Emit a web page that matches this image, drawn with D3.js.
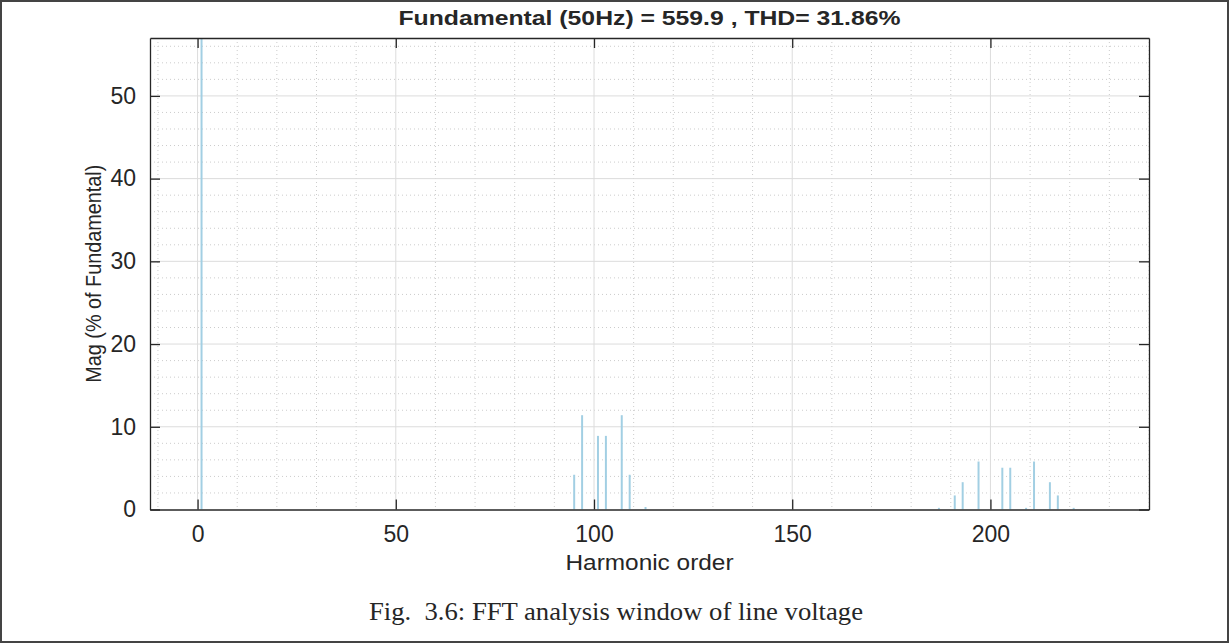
<!DOCTYPE html>
<html>
<head>
<meta charset="utf-8">
<script src="https://cdn.jsdelivr.net/npm/d3@7"></script>
<style>
  html, body { margin: 0; padding: 0; background: #fff; }
  svg { display: block; }
  text { font-family: "Liberation Sans", Arial, Helvetica, sans-serif; fill: #262626; }
</style>
</head>
<body>
<svg id="chart" width="1230" height="644"></svg>
<script>
// ---- data ----
const titleText = "Fundamental (50Hz) = 559.9 , THD= 31.86%";
const xLabelText = "Harmonic order";
const yLabelText = "Mag (% of Fundamental)";
const captionText = "Fig.  3.6: FFT analysis window of line voltage";
const harmonics = [1, 95, 97, 101, 103, 107, 109, 113, 187, 191, 193, 197, 203, 205, 209, 211, 215, 217, 221];
const magnitudes = [100, 4.2, 11.4, 8.9, 8.9, 11.4, 4.2, 0.3, 0.2, 1.7, 3.3, 5.8, 5.05, 5.05, 0.2, 5.8, 3.3, 1.7, 0.2];
const xTicks = [0, 50, 100, 150, 200];
const yTicks = [0, 10, 20, 30, 40, 50];
const xDomain = [-12, 240];
const yDomain = [0, 57];

// ---- layout ----
const svg = d3.select("#chart");
const W = 1230, H = 644;
const plot = { left: 150, right: 1149, top: 38, bottom: 509.5 };

svg.append("rect").attr("x", 1).attr("y", 1).attr("width", W - 3).attr("height", H - 3)
  .attr("fill", "#fff").attr("stroke", "#444").attr("stroke-width", 2);

const x = d3.scaleLinear().domain(xDomain).range([plot.left, plot.right]);
const y = d3.scaleLinear().domain(yDomain).range([plot.bottom, plot.top]);

svg.append("defs").append("clipPath").attr("id", "clip")
  .append("rect").attr("x", plot.left).attr("y", plot.top)
  .attr("width", plot.right - plot.left).attr("height", plot.bottom - plot.top);

const g = svg.append("g");

// minor grid
const xMinor = d3.range(-10, 241, 10).filter(v => v % 50 !== 0);
const yMinor = d3.range(0, 57.01, 2).filter(v => v % 10 !== 0);
g.selectAll(".xminor").data(xMinor).join("line")
  .attr("x1", d => x(d)).attr("x2", d => x(d)).attr("y1", plot.top).attr("y2", plot.bottom)
  .attr("stroke", "#cccccc").attr("stroke-width", 1).attr("stroke-dasharray", "1,3");
g.selectAll(".yminor").data(yMinor).join("line")
  .attr("y1", d => y(d)).attr("y2", d => y(d)).attr("x1", plot.left).attr("x2", plot.right)
  .attr("stroke", "#cccccc").attr("stroke-width", 1).attr("stroke-dasharray", "1,3");

// major grid
g.selectAll(".xmajor").data(xTicks).join("line")
  .attr("x1", d => x(d)).attr("x2", d => x(d)).attr("y1", plot.top).attr("y2", plot.bottom)
  .attr("stroke", "#dcdcdc").attr("stroke-width", 1);
g.selectAll(".ymajor").data(yTicks.slice(1)).join("line")
  .attr("y1", d => y(d)).attr("y2", d => y(d)).attr("x1", plot.left).attr("x2", plot.right)
  .attr("stroke", "#dcdcdc").attr("stroke-width", 1);

// bars
const barW = x(0.5) - x(0);
g.append("g").attr("clip-path", "url(#clip)")
  .selectAll("rect").data(harmonics.map((h, i) => ({ h, m: magnitudes[i] }))).join("rect")
  .attr("x", d => x(d.h) - barW / 2).attr("width", barW)
  .attr("y", d => y(d.m)).attr("height", d => y(0) - y(d.m))
  .attr("fill", "#a2cfe3");

// axes (box)
const axisColor = "#262626";
const xAxisB = d3.axisBottom(x).tickValues(xTicks).tickSizeInner(-10).tickSizeOuter(0).tickPadding(16);
const xAxisT = d3.axisTop(x).tickValues(xTicks).tickSizeInner(-10).tickSizeOuter(0).tickFormat("");
const yAxisL = d3.axisLeft(y).tickValues(yTicks).tickSizeInner(-10).tickSizeOuter(0).tickPadding(14);
const yAxisR = d3.axisRight(y).tickValues(yTicks).tickSizeInner(-10).tickSizeOuter(0).tickFormat("");

function styleAxis(sel) {
  sel.select(".domain").attr("stroke", axisColor).attr("stroke-width", 1.3);
  sel.selectAll(".tick line").attr("stroke", axisColor).attr("stroke-width", 1.3);
  sel.selectAll(".tick text").attr("fill", "#262626").style("font-size", "23px")
    .style("font-family", "'Liberation Sans', Arial, sans-serif");
}
styleAxis(svg.append("g").attr("transform", `translate(0,${plot.bottom})`).call(xAxisB));
styleAxis(svg.append("g").attr("transform", `translate(0,${plot.top})`).call(xAxisT));
styleAxis(svg.append("g").attr("transform", `translate(${plot.left},0)`).call(yAxisL));
styleAxis(svg.append("g").attr("transform", `translate(${plot.right},0)`).call(yAxisR));

// title
svg.append("text").attr("x", (plot.left + plot.right) / 2).attr("y", 25)
  .attr("text-anchor", "middle").style("font-size", "20px").style("font-weight", "bold")
  .attr("textLength", 502).attr("lengthAdjust", "spacingAndGlyphs")
  .text(titleText);

// x label
svg.append("text").attr("x", (plot.left + plot.right) / 2).attr("y", 570)
  .attr("text-anchor", "middle").style("font-size", "22px")
  .attr("textLength", 168).attr("lengthAdjust", "spacingAndGlyphs")
  .text(xLabelText);

// y label
svg.append("text").attr("transform", `translate(101,${(plot.top + plot.bottom) / 2}) rotate(-90)`)
  .attr("text-anchor", "middle").style("font-size", "22px")
  .attr("textLength", 218).attr("lengthAdjust", "spacingAndGlyphs")
  .text(yLabelText);

// caption
svg.append("text").attr("x", 616).attr("y", 620)
  .attr("text-anchor", "middle").attr("xml:space", "preserve").style("white-space", "pre")
  .style("font-family", "'Liberation Serif', 'Times New Roman', serif").style("font-size", "25px")
  .attr("textLength", 494).attr("lengthAdjust", "spacingAndGlyphs")
  .text(captionText);
</script>
</body>
</html>
